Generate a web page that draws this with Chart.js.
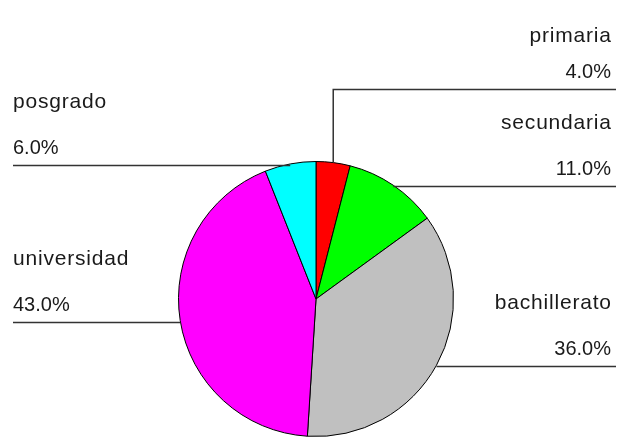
<!DOCTYPE html>
<html>
<head>
<meta charset="utf-8">
<script src="https://cdn.jsdelivr.net/npm/chart.js@4/dist/chart.umd.min.js"></script>
<style>
    html, body { margin: 0; padding: 0; background: #ffffff; }
    #wrap { width: 618px; height: 439px; }
</style>
</head>
<body>
<div id="wrap"><canvas id="pieChart" width="618" height="439"></canvas></div>
<script>
// Nivel de estudios (porcentajes)
const categories = ['primaria', 'secundaria', 'bachillerato', 'universidad', 'posgrado'];
const percentages = [4.0, 11.0, 36.0, 43.0, 6.0];
const sliceColors = ['#ff0000', '#00ff00', '#c0c0c0', '#ff00ff', '#00ffff'];

const NAME_FONT = '21px "Liberation Sans", Arial, sans-serif';
const PCT_FONT = '20px "Liberation Sans", Arial, sans-serif';
const NAME_SPACING = 0.8;  // espaciado extra entre letras del nombre
const LABEL_GAP = 97;      // separación mínima entre líneas guía del mismo lado
const NAME_TOP = 42;       // línea base mínima para no salirse por arriba
const MARGIN_LEFT = 13;
const MARGIN_RIGHT = 616;

// Dibuja las líneas guía y las etiquetas (nombre y porcentaje) fuera del pastel
const outerLabels = {
    id: 'outerLabels',
    afterDatasetsDraw(chart) {
        const ctx = chart.ctx;
        const meta = chart.getDatasetMeta(0);
        const items = meta.data.map((arc, i) => {
            const mid = (arc.startAngle + arc.endAngle) / 2;
            const x = arc.x + Math.cos(mid) * arc.outerRadius;
            const y = arc.y + Math.sin(mid) * arc.outerRadius;
            return { i, x, y, right: x >= arc.x, lineY: y };
        });

        // Evitar que las etiquetas de un mismo lado se encimen
        [true, false].forEach(side => {
            const group = items.filter(it => it.right === side).sort((a, b) => b.y - a.y);
            for (let k = 1; k < group.length; k++) {
                const below = group[k - 1];
                if (group[k].lineY > below.lineY - LABEL_GAP) {
                    group[k].lineY = below.lineY - LABEL_GAP;
                }
            }
        });

        ctx.save();
        ctx.strokeStyle = '#333333';
        ctx.lineWidth = 1.5;
        ctx.fillStyle = '#1a1a1a';
        ctx.textBaseline = 'alphabetic';

        items.forEach(it => {
            const ly = Math.round(it.lineY + 1) + 0.5;
            const endX = it.right ? MARGIN_RIGHT : MARGIN_LEFT;
            ctx.beginPath();
            ctx.moveTo(it.x, it.y);
            if (Math.abs(ly - it.y) > 2) {
                ctx.lineTo(it.x, ly);
            } else {
                ctx.moveTo(it.x, ly);
            }
            ctx.lineTo(endX, ly);
            ctx.stroke();

            const tx = it.right ? MARGIN_RIGHT - 5 : MARGIN_LEFT;
            ctx.textAlign = it.right ? 'right' : 'left';
            ctx.font = PCT_FONT;
            ctx.letterSpacing = '0px';
            ctx.fillText(percentages[it.i].toFixed(1) + '%', tx, ly - 12);
            ctx.font = NAME_FONT;
            ctx.letterSpacing = NAME_SPACING + 'px';
            const nameX = it.right ? tx + NAME_SPACING : tx;
            ctx.fillText(categories[it.i], nameX, Math.max(ly - 58, NAME_TOP));
        });
        ctx.restore();
    }
};

new Chart(document.getElementById('pieChart'), {
    type: 'pie',
    data: {
        labels: categories,
        datasets: [{
            data: percentages,
            backgroundColor: sliceColors,
            borderColor: '#000000',
            borderWidth: 1
        }]
    },
    options: {
        responsive: false,
        animation: false,
        layout: {
            padding: { top: 161, bottom: 2, left: 100, right: 86 }
        },
        plugins: {
            legend: { display: false },
            tooltip: { enabled: false }
        }
    },
    plugins: [outerLabels]
});
</script>
</body>
</html>
